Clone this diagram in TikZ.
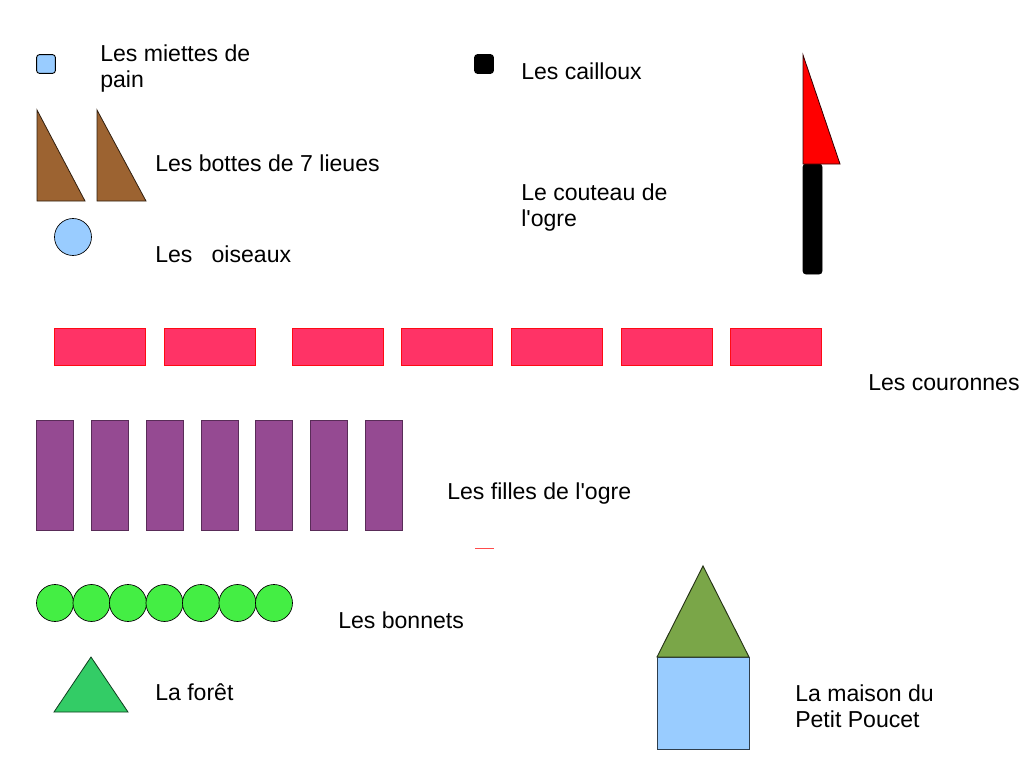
\documentclass[tikz,border=0pt]{standalone}
\usepackage{fontspec}
\setmainfont{Liberation Sans}
\usepackage{tikz}
\usetikzlibrary{positioning}
\definecolor{ciel}{HTML}{99CCFF}
\definecolor{botte}{HTML}{9C6331}
\definecolor{couronne}{HTML}{FF3366}
\definecolor{fille}{HTML}{954A92}
\definecolor{bonnet}{HTML}{44EE44}
\definecolor{foret}{HTML}{33CC66}
\definecolor{toit}{HTML}{7AA648}

\begin{document}
\begin{tikzpicture}[x=0.75pt,y=-0.75pt,
    label text/.style={anchor=base west,inner sep=0pt,font=\fontsize{17.3}{19.5}\selectfont,align=left},
    small square/.style={rectangle,rounded corners=2pt,draw=black,line width=0.7pt,inner sep=0pt,minimum size=14pt},
    botte tri/.style={fill=botte,draw=black!70!botte,line width=0.6pt},
    crown box/.style={rectangle,fill=couronne,draw=red!80!couronne,line width=0.5pt,inner sep=0pt,minimum width=68.5pt,minimum height=27.5pt},
    fille box/.style={rectangle,fill=fille,draw=black!40!fille,line width=0.5pt,inner sep=0pt,minimum width=27.5pt,minimum height=82.5pt},
    round node/.style={circle,draw=black,line width=0.5pt,inner sep=0pt,minimum size=27.75pt}]
  \useasboundingbox (0,0) rectangle (1023,767);

  % en haut a gauche
  \node[small square,fill=ciel] (miette) at (46,64) {};
  \node[label text] (miettetxt) at (100,87) {Les miettes de\\pain};
  \draw[botte tri] (37,110) -- (85,201) -- (37,201) -- cycle;
  \draw[botte tri] (97,110) -- (146,201) -- (97,201) -- cycle;
  \node[label text] (bottetxt) at (155,171) {Les bottes de 7 lieues};
  \node[round node,fill=ciel] (oiseau) at (73,237) {};
  \node[label text] (oiseautxt) at (155,262) {Les \ \ oiseaux};

  % cailloux et couteau
  \node[small square,fill=black] (caillou) at (484,64) {};
  \node[label text] (cailloutxt) at (521,79.5) {Les cailloux};
  \node[label text] (couteautxt) at (521,226) {Le couteau de\\l\textquotesingle ogre};
  \draw[fill=black,rounded corners=2pt] (803,164) rectangle (822,274);
  \draw[fill=red,draw=black!80!red,line width=0.6pt] (803,55) -- (840,164) -- (803,164) -- cycle;

  % couronnes
  \foreach \x/\n in {100/1,210/2,338/3,447/4,557/5,666.5/6,776/7}
    \node[crown box] (couronne\n) at (\x,346.5) {};
  \node[label text] (couronnetxt) at (868,390) {Les couronnes};

  % filles
  \foreach \x/\n in {55/1,109.5/2,164.5/3,219.5/4,274/5,329/6,383.5/7}
    \node[fille box] (fille\n) at (\x,475) {};
  \node[label text] (filletxt) at (447,499) {Les filles de l\textquotesingle ogre};
  \draw[red!70!white,line width=0.6pt] (475,548) -- (494,548);

  % bonnets
  \foreach \x/\n in {55/1,91.5/2,128/3,164.5/4,201/5,237.5/6,274/7}
    \node[round node,fill=bonnet] (bonnet\n) at (\x,603) {};
  \node[label text] (bonnettxt) at (338,628) {Les bonnets};

  % foret
  \draw[fill=foret,draw=black!70!foret,line width=0.6pt] (91,657) -- (128,712) -- (54,712) -- cycle;
  \node[label text] (forettxt) at (155,700) {La forêt};

  % maison
  \draw[fill=ciel,draw=black!70!ciel,line width=0.7pt] (657,657) rectangle (749,749);
  \draw[fill=toit,draw=black!70!toit,line width=0.7pt] (703,566) -- (749,657) -- (657,657) -- cycle;
  \node[label text] (maisontxt) at (795,727) {La maison du\\Petit Poucet};
\end{tikzpicture}
\end{document}
